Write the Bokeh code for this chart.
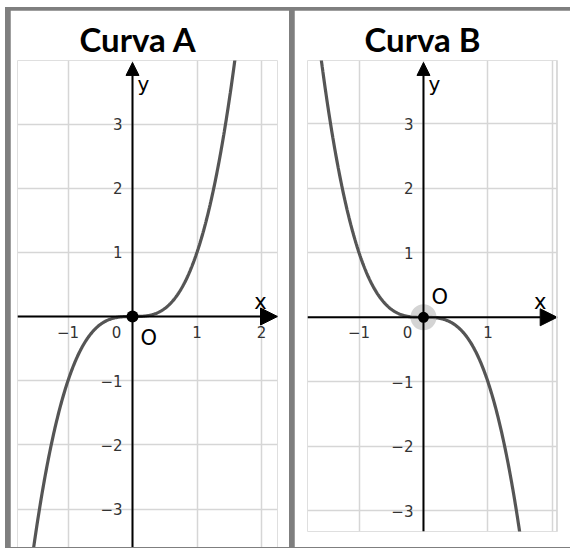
import numpy as np
from bokeh.plotting import figure
from bokeh.layouts import row
from bokeh.models import Range1d, Grid, FixedTicker, Arrow, NormalHead, Span
from bokeh.core.properties import value
from bokeh.embed import file_html
from bokeh.resources import INLINE

# two cubic curves y = c * x^3
titles = ["Curva A", "Curva B"]
cubic_coef = [1, -1]

# tick values and their labels
x_ticks_A = [-1, 1, 2]
x_labels_A = ["−1", "1", "2"]
x_ticks_B = [-1, 1]
x_labels_B = ["−1", "1"]
y_ticks = [-3, -2, -1, 1, 2, 3]
y_labels = ["−3", "−2", "−1", "1", "2", "3"]
grid_x = [-1, 0, 1, 2]
grid_y = [-3, -2, -1, 0, 1, 2, 3]

# visible windows of the two panels
x_win_A = (-1.783, 2.248)
y_win_A = (-3.60, 3.99)
x_win_B = (-1.80, 2.08)
y_win_B = (-3.32, 3.98)

TICK_FONT = value("DejaVu Sans")
CURVE = "#555555"
BORDER = "#7f7f7f"


def panel(title, coef, xw, yw, xt, xl, width, height, borders, title_offset, halo):
    left, right, top, bottom = borders
    p = figure(width=width, height=height, x_range=Range1d(*xw), y_range=Range1d(*yw),
               x_axis_type=None, y_axis_type=None, toolbar_location=None,
               output_backend="svg", min_border_left=left, min_border_right=right,
               min_border_top=top, min_border_bottom=bottom,
               background_fill_color="white", border_fill_color="white")
    p.frame_align = False
    p.outline_line_color = None
    p.title.text = title
    p.title.text_font = "Lato"
    p.title.text_font_style = "bold"
    p.title.text_font_size = "33px"
    p.title.align = "left"
    p.title.offset = title_offset
    p.title.standoff = 3
    p.title.text_color = "black"

    for dim, ticks in ((0, grid_x), (1, grid_y)):
        g = Grid(dimension=dim, ticker=FixedTicker(ticks=ticks),
                 grid_line_color="#d6d6d6", grid_line_width=1.5)
        p.add_layout(g)

    # the cubic itself
    xs = np.linspace(-2.3, 2.3, 500)
    p.line(xs, coef * xs ** 3, line_color=CURVE, line_width=3.2)

    # axes through the origin, drawn as arrows
    x_tip = xw[1] - (0.005 if halo else 0.0)
    y_tip = yw[1] - 0.03
    p.add_layout(Arrow(x_start=xw[0], y_start=0, x_end=x_tip, y_end=0,
                       line_color="black", line_width=2,
                       end=NormalHead(size=17, fill_color="black", line_color="black")))
    p.add_layout(Arrow(x_start=0, y_start=yw[0], x_end=0, y_end=y_tip,
                       line_color="black", line_width=2,
                       end=NormalHead(size=13, fill_color="black", line_color="black")))

    # tick labels
    p.text(x=xt, y=[0] * len(xt), text=xl, text_font=TICK_FONT, text_font_size="15px",
           text_color="#333333", text_align="center", text_baseline="top", y_offset=9)
    p.text(x=[0], y=[0], text=["0"], text_font=TICK_FONT, text_font_size="15px",
           text_color="#333333", text_align="center", text_baseline="top",
           x_offset=-16, y_offset=9)
    p.text(x=[0] * len(y_ticks), y=y_ticks, text=y_labels, text_font=TICK_FONT,
           text_font_size="15px", text_color="#333333", text_align="right",
           text_baseline="middle", x_offset=-10)

    # axis names
    p.text(x=[x_tip], y=[0], text=["x"], text_font=TICK_FONT, text_font_size="21px",
           text_color="black", text_align="center", text_baseline="bottom",
           x_offset=-17, y_offset=-3)
    p.text(x=[0], y=[y_tip], text=["y"], text_font=TICK_FONT, text_font_size="20px",
           text_color="black", text_align="left", text_baseline="alphabetic",
           x_offset=5, y_offset=22)

    # origin
    if halo:
        p.scatter([0], [0], size=26, fill_color="#b8b8b8", fill_alpha=0.6, line_color=None)
        p.scatter([0], [0], size=11, fill_color="black", line_color=None)
        p.text(x=[0], y=[0], text=["O"], text_font=TICK_FONT, text_font_size="21px",
               text_color="black", text_align="left", text_baseline="bottom",
               x_offset=8, y_offset=-8)
        p.add_layout(Span(location=xw[1] - 0.01, dimension="height",
                          line_color="#d6d6d6", line_width=1.5))
    else:
        p.scatter([0], [0], size=12, fill_color="black", line_color=None)
        p.text(x=[0], y=[0], text=["O"], text_font=TICK_FONT, text_font_size="21px",
               text_color="black", text_align="left", text_baseline="top",
               x_offset=8, y_offset=9)
    return p


pA = panel(titles[0], cubic_coef[0], x_win_A, y_win_A, x_ticks_A, x_labels_A,
           279, 537, (7, 12, 50, 0), 62, False)
pB = panel(titles[1], cubic_coef[1], x_win_B, y_win_B, x_ticks_B, x_labels_B,
           276, 537, (13, 13, 50, 16), 57, True)
pA.margin = (3, 0, 1, 5)
pB.margin = (3, 0, 1, 0)

layout = row(pA, pB, spacing=5, styles={"background-color": BORDER}, margin=(7, 0, 0, 5))

open("out.html", "w").write(file_html(layout, INLINE))
